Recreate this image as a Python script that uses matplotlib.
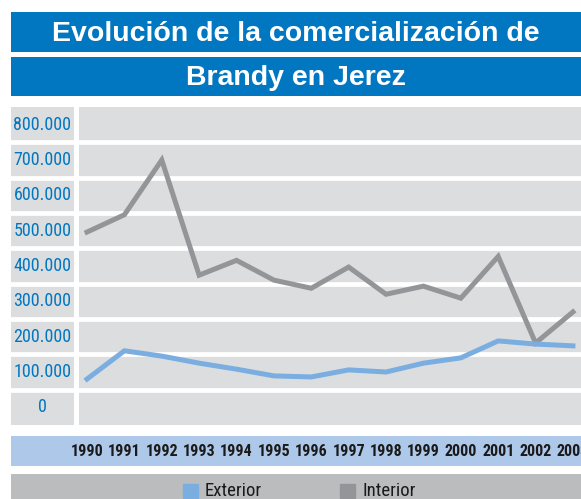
import matplotlib
matplotlib.use("Agg")
import matplotlib.pyplot as plt
from matplotlib import font_manager
from matplotlib.patches import Rectangle

years = [1990, 1991, 1992, 1993, 1994, 1995, 1996, 1997, 1998, 1999, 2000, 2001, 2002, 2003]
interior = [496000, 545000, 700000, 374000, 416000, 360000, 337000, 397000, 320000, 343000, 309000, 427000, 182000, 270000]
exterior = [80000, 160000, 145000, 125000, 108000, 89000, 86000, 106000, 100000, 125000, 140000, 188000, 179000, 174000]
y_ticks = [0, 100000, 200000, 300000, 400000, 500000, 600000, 700000, 800000]
y_labels = ["0", "100.000", "200.000", "300.000", "400.000", "500.000", "600.000", "700.000", "800.000"]
title_lines = ["Evolución de la comercialización de", "Brandy en Jerez"]
series_names = ["Exterior", "Interior"]

names = {f.name for f in font_manager.fontManager.ttflist}
def pick(*cands):
    for c in cands:
        if c in names:
            return c
    return "DejaVu Sans"
narrow = pick("Liberation Sans Narrow", "DejaVu Sans Condensed", "Roboto Condensed", "Liberation Sans")
title_font = pick("Liberation Sans", "DejaVu Sans")

W, H = 581, 499
fig = plt.figure(figsize=(W / 100, H / 100), dpi=100)
fig.patch.set_facecolor("white")

def rect(x0, y0, x1, y1):
    # pixel coords from top-left -> figure fraction
    return [x0 / W, 1 - y1 / H, (x1 - x0) / W, (y1 - y0) / H]

BLUE = "#0077c0"
CELL = "#dcdddf"
C_INT = "#939598"
C_EXT = "#7aaee0"

# Title bands
for (y0, y1), txt in zip([(12, 52), (57, 96)], title_lines):
    tax = fig.add_axes(rect(11, y0, 581, y1))
    tax.set_facecolor(BLUE)
    tax.set_xticks([]); tax.set_yticks([])
    for s in tax.spines.values():
        s.set_visible(False)
    tax.text(0.5, 0.45, txt, color="white", fontsize=20.5, fontweight="bold",
             family=title_font, ha="center", va="center", transform=tax.transAxes)

x_lo, x_hi = 1989.786, 2003.215
ylo, yhi = -50000, 850000
gaps = [50000 + 100000 * k for k in range(8)]

# Label column
lax = fig.add_axes(rect(11, 107, 74, 425))
lax.set_facecolor(CELL)
lax.set_ylim(ylo, yhi); lax.set_xlim(0, 1)
lax.set_xticks([]); lax.set_yticks([])
for s in lax.spines.values():
    s.set_visible(False)
for g in gaps:
    lax.axhline(g, color="white", lw=3.4)
for v, lab in zip(y_ticks, y_labels):
    lax.text(0.5, v, lab, color=BLUE, fontsize=13, family=narrow, ha="center", va="center")

# Main plot
ax = fig.add_axes(rect(79, 107, 581, 425))
ax.set_facecolor(CELL)
ax.set_xlim(x_lo, x_hi); ax.set_ylim(ylo, yhi)
ax.set_xticks([]); ax.set_yticks([])
for s in ax.spines.values():
    s.set_visible(False)
for g in gaps:
    ax.axhline(g, color="white", lw=3.4, zorder=1)
ax.plot(years, interior, color=C_INT, lw=3.6, solid_joinstyle="miter", zorder=3)
ax.plot(years, exterior, color=C_EXT, lw=3.6, solid_joinstyle="miter", zorder=3)

# Year band
pitch = (2003 - 1990) / (573 - 87)
yax = fig.add_axes(rect(11, 436, 581, 466))
yax.set_facecolor("#adc8e8")
yax.set_xlim(x_lo - (79 - 11) * pitch, x_hi); yax.set_ylim(0, 1)
yax.set_xticks([]); yax.set_yticks([])
for s in yax.spines.values():
    s.set_visible(False)
for yr in years:
    yax.text(yr, 0.47, str(yr), color="#1a1a1a", fontsize=11.5, fontweight="bold",
             family=narrow, ha="center", va="center")

# Legend band
gax = fig.add_axes(rect(11, 474, 581, 499))
gax.set_facecolor("#bbbcbe")
gax.set_xlim(11, 581); gax.set_ylim(499, 474)
gax.set_xticks([]); gax.set_yticks([])
for s in gax.spines.values():
    s.set_visible(False)
for x0, col, name in [(183, C_EXT, series_names[0]), (340, C_INT, series_names[1])]:
    gax.add_patch(Rectangle((x0, 484), 15, 14, color=col))
    gax.text(x0 + 22, 490.5, name, color="#1a1a1a", fontsize=13.5, family=narrow,
             ha="left", va="center")

fig.savefig("out.png", dpi=100)
